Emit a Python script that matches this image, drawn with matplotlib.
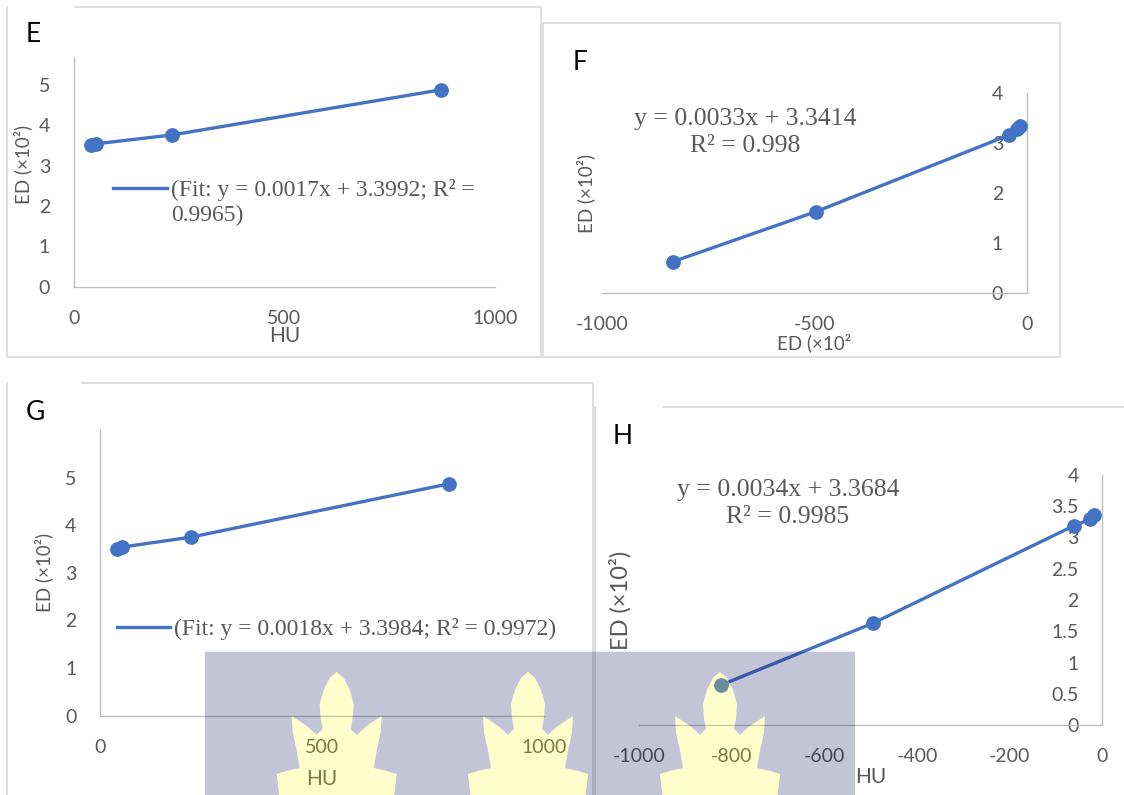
import numpy as np
import matplotlib
matplotlib.use('Agg')
from matplotlib import pyplot as plt
from matplotlib.lines import Line2D
from matplotlib.patches import PathPatch
from matplotlib.path import Path
from matplotlib.legend_handler import HandlerLine2D
from matplotlib.ticker import FuncFormatter

plt.rcParams['axes.unicode_minus'] = False

# Data (HU vs ED x10^2)
e_hu = [42, 52, 233, 872]
e_ed = [3.50, 3.54, 3.76, 4.88]
f_hu = [-833, -496, -42, -23, -16]
f_ed = [0.63, 1.63, 3.16, 3.29, 3.34]
g_hu = [39, 49, 205, 786]
g_ed = [3.51, 3.54, 3.75, 4.87]
h_hu = [-823, -495, -61, -27, -19]
h_ed = [0.64, 1.63, 3.19, 3.29, 3.36]

e_fit = '(Fit: y = 0.0017x + 3.3992; R\u00b2 =\n0.9965)'
f_eq = 'y = 0.0033x + 3.3414\nR\u00b2 = 0.998'
g_fit = '(Fit: y = 0.0018x + 3.3984; R\u00b2 = 0.9972)'
h_eq = 'y = 0.0034x + 3.3684\nR\u00b2 = 0.9985'

pos_xticks = [0, 500, 1000]
f_xticks = [-1000, -500, 0]
h_xticks = [-1000, -800, -600, -400, -200, 0]
h_yticks = [0, 0.5, 1, 1.5, 2, 2.5, 3, 3.5, 4]

BLUE = '#4472C4'
GREY = '#595959'
AXIS = '#BFBFBF'
FRAME = '#D9D9D9'
SANS = 'Lato'
SERIF = 'Liberation Serif'

W, H = 1124, 795
fig = plt.figure(figsize=(W / 100, H / 100), dpi=100)


def fx(x):
    return x / W


def fy(y):
    return 1 - y / H


def add_axes(l, t, r, b):
    return fig.add_axes([fx(l), fy(b), (r - l) / W, (b - t) / H])


def frame_line(xs, ys):
    fig.add_artist(Line2D([fx(x) for x in xs], [fy(y) for y in ys],
                          transform=fig.transFigure, color=FRAME, lw=1.2))


class FirstLineHandler(HandlerLine2D):
    """Put the legend line next to the first text line."""

    def __init__(self, shift, **kw):
        super().__init__(**kw)
        self.shift = shift

    def create_artists(self, legend, orig_handle, xdescent, ydescent,
                       width, height, fontsize, trans):
        arts = super().create_artists(legend, orig_handle, xdescent, ydescent,
                                      width, height, fontsize, trans)
        for a in arts:
            a.set_ydata(np.asarray(a.get_ydata()) + self.shift * fontsize)
        return arts


def style(ax, right_axis=False):
    for s in ['top', 'right']:
        ax.spines[s].set_visible(False)
    for s in ['left', 'bottom']:
        ax.spines[s].set_color(AXIS)
        ax.spines[s].set_linewidth(1.0)
    if right_axis:
        ax.spines['left'].set_position(('axes', 1.0))
    ax.tick_params(axis='both', length=0, labelsize=14, labelcolor=GREY)
    ax.tick_params(axis='x', pad=16.5)
    ax.tick_params(axis='y', pad=17)
    for t in ax.get_xticklabels() + ax.get_yticklabels():
        t.set_family(SANS)
    ax.set_facecolor('none')


def scatter_line(ax, hu, ed):
    ax.plot(hu, ed, '-', color=BLUE, lw=2.4, clip_on=False, zorder=3)
    ax.plot(hu, ed, 'o', color=BLUE, ms=9.6, clip_on=False, zorder=4)


# panel frames
frame_line([7, 7, 541, 541, 75], [7, 357, 357, 7, 7])
frame_line([543, 543, 1060, 1060, 543], [23, 357, 357, 23, 23])
frame_line([82, 593, 593], [383.3, 383.3, 795])
frame_line([7, 7], [383.3, 795])
frame_line([663, 1124], [406.7, 406.7])
frame_line([595, 595], [406.7, 795])

# ---- E ----
ax = add_axes(73.7, 56.7, 495, 286.7)
scatter_line(ax, e_hu, e_ed)
ax.set_xlim(0, 1000)
ax.set_ylim(0, 5.7)
ax.set_xticks(pos_xticks)
ax.set_yticks(range(6))
style(ax)
ax.set_xlabel('HU', fontsize=15, color=GREY, family=SANS)
ax.xaxis.set_label_coords(0.5, -0.17)
ax.set_ylabel('ED (\u00d710\u00b2)', fontsize=13.5, color=GREY, family=SANS)
ax.yaxis.set_label_coords(-0.098, 0.53)
leg = ax.legend(handles=[Line2D([], [], color=BLUE, lw=2.4)], labels=[e_fit],
                loc='upper left', bbox_to_anchor=(fx(113), fy(179)),
                bbox_transform=fig.transFigure, frameon=False, borderpad=0,
                borderaxespad=0, handlelength=2.29, handletextpad=0.17,
                prop={'family': SERIF, 'size': 17}, labelcolor=GREY,
                handler_map={Line2D: FirstLineHandler(0.62)})
leg.get_texts()[0].set_linespacing(1.25)

# ---- F ----
ax = add_axes(601.7, 93, 1026.7, 293.3)
scatter_line(ax, f_hu, f_ed)
ax.set_xlim(-1000, 0)
ax.set_ylim(0, 4)
ax.set_xticks(f_xticks)
ax.set_yticks(range(5))
style(ax, right_axis=True)
ax.set_xlabel('ED (\u00d710\u00b2', fontsize=13.5, color=GREY, family=SANS)
ax.xaxis.set_label_coords(0.5, -0.2)
ax.set_ylabel('ED (\u00d710\u00b2)', fontsize=13.5, color=GREY, family=SANS)
ax.yaxis.set_label_coords(-0.016, 0.5)
ax.text(0.337, 0.805, f_eq, transform=ax.transAxes, ha='center', va='center',
        family=SERIF, fontsize=18.5, color=GREY, linespacing=1.3)

# ---- G ----
ax = add_axes(100, 430, 544, 715.7)
scatter_line(ax, g_hu, g_ed)
ax.set_xlim(0, 1000)
ax.set_ylim(0, 6)
ax.set_xticks(pos_xticks)
ax.set_yticks(range(6))
style(ax)
ax.set_xlabel('HU', fontsize=15, color=GREY, family=SANS)
ax.xaxis.set_label_coords(0.5, -0.185)
ax.set_ylabel('ED (\u00d710\u00b2)', fontsize=13.5, color=GREY, family=SANS)
ax.yaxis.set_label_coords(-0.105, 0.5)
ax.legend(handles=[Line2D([], [], color=BLUE, lw=2.4)], labels=[g_fit],
          loc='upper left', bbox_to_anchor=(fx(116.7), fy(618)),
          bbox_transform=fig.transFigure, frameon=False, borderpad=0,
          borderaxespad=0, handlelength=2.26, handletextpad=0.17,
          prop={'family': SERIF, 'size': 17}, labelcolor=GREY)

# ---- H ----
ax = add_axes(639.3, 475, 1102.3, 725)
scatter_line(ax, h_hu, h_ed)
ax.set_xlim(-1000, 0)
ax.set_ylim(0, 4)
ax.set_xticks(h_xticks)
ax.set_yticks(h_yticks)
ax.yaxis.set_major_formatter(FuncFormatter(lambda v, p: '%g' % v))
style(ax, right_axis=True)
ax.set_xlabel('HU', fontsize=15, color=GREY, family=SANS)
ax.xaxis.set_label_coords(0.5, -0.168)
ax.set_ylabel('ED (\u00d710\u00b2)', fontsize=17, color=GREY, family=SANS)
ax.yaxis.set_label_coords(-0.016, 0.5)
ax.text(0.321, 0.887, h_eq, transform=ax.transAxes, ha='center', va='center',
        family=SERIF, fontsize=18.5, color=GREY, linespacing=1.3)

# panel letters
for letter, x, y in [('E', 33, 35), ('F', 580, 63), ('G', 35, 412), ('H', 623, 437)]:
    fig.text(fx(x), fy(y), letter, ha='center', va='center', fontsize=19,
             family=SANS, color='black')

# watermark: lavender band with three pale yellow flames
flame_dx = [0, 7, 13, 17, 16, 14, 20, 30, 45, 44, 40, 37, 50, 60, 57]
flame_dy = [0, 6, 18, 32, 46, 57, 63, 54, 44, 60, 78, 96, 99, 102, 128]
flame_cx = [336.7, 528, 720]
tip_y = 672

rx0, rx1, ry0, ry1 = 205, 855, 651.7, 800
verts = [(fx(rx0), fy(ry1)), (fx(rx1), fy(ry1)), (fx(rx1), fy(ry0)),
         (fx(rx0), fy(ry0)), (fx(rx0), fy(ry1))]
codes = [Path.MOVETO] + [Path.LINETO] * 3 + [Path.CLOSEPOLY]
flame_paths = []
for cx in flame_cx:
    xs = flame_dx + [-d for d in reversed(flame_dx[1:])]
    ys = flame_dy + list(reversed(flame_dy[1:]))
    ring = [(fx(cx + a), fy(tip_y + b)) for a, b in zip(xs, ys)]
    ring.append(ring[0])
    rc = [Path.MOVETO] + [Path.LINETO] * (len(ring) - 2) + [Path.CLOSEPOLY]
    verts += ring
    codes += rc
    flame_paths.append(Path(ring, rc))

fig.add_artist(PathPatch(Path(verts, codes), transform=fig.transFigure,
                         facecolor='#09095C', alpha=0.24, lw=0, zorder=10))
for p in flame_paths:
    fig.add_artist(PathPatch(p, transform=fig.transFigure, facecolor='#FFFF00',
                             alpha=0.2, lw=0, zorder=10))

plt.savefig('out.png', dpi=100)
plt.close()
